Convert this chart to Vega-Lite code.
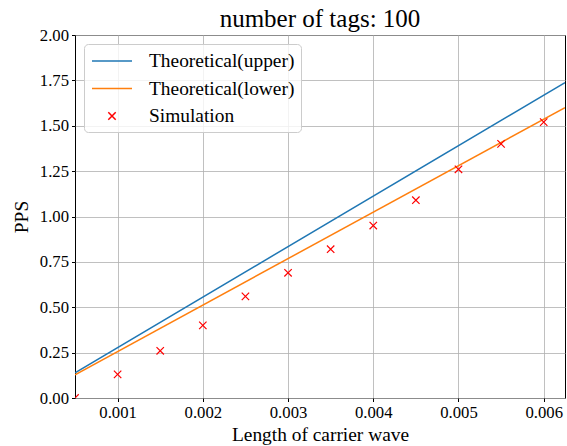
{
  "$schema": "https://vega.github.io/schema/vega-lite/v6.json",
  "width": 490,
  "height": 363,
  "autosize": "none",
  "padding": {"left": 75, "top": 35, "right": 2, "bottom": 48},
  "background": "white",
  "title": {"text": "number of tags: 100", "font": "Liberation Serif", "fontSize": 25, "fontWeight": "normal", "color": "black", "offset": -5, "anchor": "middle"},
  "config": {
    "view": {"stroke": "black", "strokeWidth": 1},
    "axis": {
      "domain": false,
      "grid": true,
      "gridColor": "#b0b0b0",
      "gridWidth": 0.8,
      "tickColor": "black",
      "tickSize": 3.5,
      "tickWidth": 1,
      "labelFont": "Liberation Serif",
      "labelFontSize": 16.7,
      "labelColor": "black",
      "labelPadding": 3,
      "titleFont": "Liberation Serif",
      "titleFontSize": 19.4,
      "titleFontWeight": "normal",
      "titleColor": "black"
    },
    "legend": {
      "orient": "top-left",
      "offset": 9,
      "padding": 6,
      "fillColor": "rgba(255,255,255,0.8)",
      "strokeColor": "#cccccc",
      "cornerRadius": 4,
      "labelFont": "Liberation Serif",
      "labelFontSize": 19.4,
      "labelColor": "black",
      "labelOffset": 26,
      "symbolOffset": 11,
      "symbolSize": 400,
      "symbolStrokeWidth": 1.5,
      "rowPadding": 6.5
    }
  },
  "data": {
    "values": [
      {"x": 0.0005, "y": 0.139, "series": "Theoretical(upper)"},
      {"x": 0.00625, "y": 1.7375, "series": "Theoretical(upper)"},
      {"x": 0.0005, "y": 0.128, "series": "Theoretical(lower)"},
      {"x": 0.00625, "y": 1.60, "series": "Theoretical(lower)"},
      {"x": 0.0005, "y": 0.0, "series": "Simulation"},
      {"x": 0.001, "y": 0.13, "series": "Simulation"},
      {"x": 0.0015, "y": 0.26, "series": "Simulation"},
      {"x": 0.002, "y": 0.40, "series": "Simulation"},
      {"x": 0.0025, "y": 0.56, "series": "Simulation"},
      {"x": 0.003, "y": 0.69, "series": "Simulation"},
      {"x": 0.0035, "y": 0.82, "series": "Simulation"},
      {"x": 0.004, "y": 0.95, "series": "Simulation"},
      {"x": 0.0045, "y": 1.09, "series": "Simulation"},
      {"x": 0.005, "y": 1.26, "series": "Simulation"},
      {"x": 0.0055, "y": 1.40, "series": "Simulation"},
      {"x": 0.006, "y": 1.52, "series": "Simulation"}
    ]
  },
  "encoding": {
    "x": {
      "field": "x", "type": "quantitative",
      "scale": {"domain": [0.0005, 0.00625], "nice": false, "zero": false},
      "axis": {"values": [0.001, 0.002, 0.003, 0.004, 0.005, 0.006], "format": ".3f", "title": "Length of carrier wave", "titlePadding": 4}
    },
    "y": {
      "field": "y", "type": "quantitative",
      "scale": {"domain": [0, 2], "nice": false},
      "axis": {"values": [0, 0.25, 0.5, 0.75, 1, 1.25, 1.5, 1.75, 2], "format": ".2f", "title": "PPS", "titlePadding": 8}
    },
    "color": {
      "field": "series", "type": "nominal",
      "scale": {"domain": ["Theoretical(upper)", "Theoretical(lower)", "Simulation"], "range": ["#1f77b4", "#ff7f0e", "#ff0000"]},
      "legend": {
        "title": null,
        "encode": {
          "symbols": {
            "update": {
              "shape": {"signal": "datum.value === 'Simulation' ? 'M-1,-1L1,1M-1,1L1,-1' : 'M-2,0L2,0'"},
              "size": {"signal": "datum.value === 'Simulation' ? 55 : 400"},
              "fill": {"value": "transparent"},
              "strokeWidth": {"value": 1.5}
            }
          }
        }
      }
    }
  },
  "layer": [
    {
      "transform": [{"filter": "datum.series !== 'Simulation'"}],
      "mark": {"type": "line", "strokeWidth": 1.5, "clip": true}
    },
    {
      "transform": [{"filter": "datum.series === 'Simulation'"}],
      "mark": {"type": "point", "shape": "M-1,-1L1,1M-1,1L1,-1", "filled": false, "size": 55, "strokeWidth": 1.2, "opacity": 1, "clip": true}
    }
  ]
}
